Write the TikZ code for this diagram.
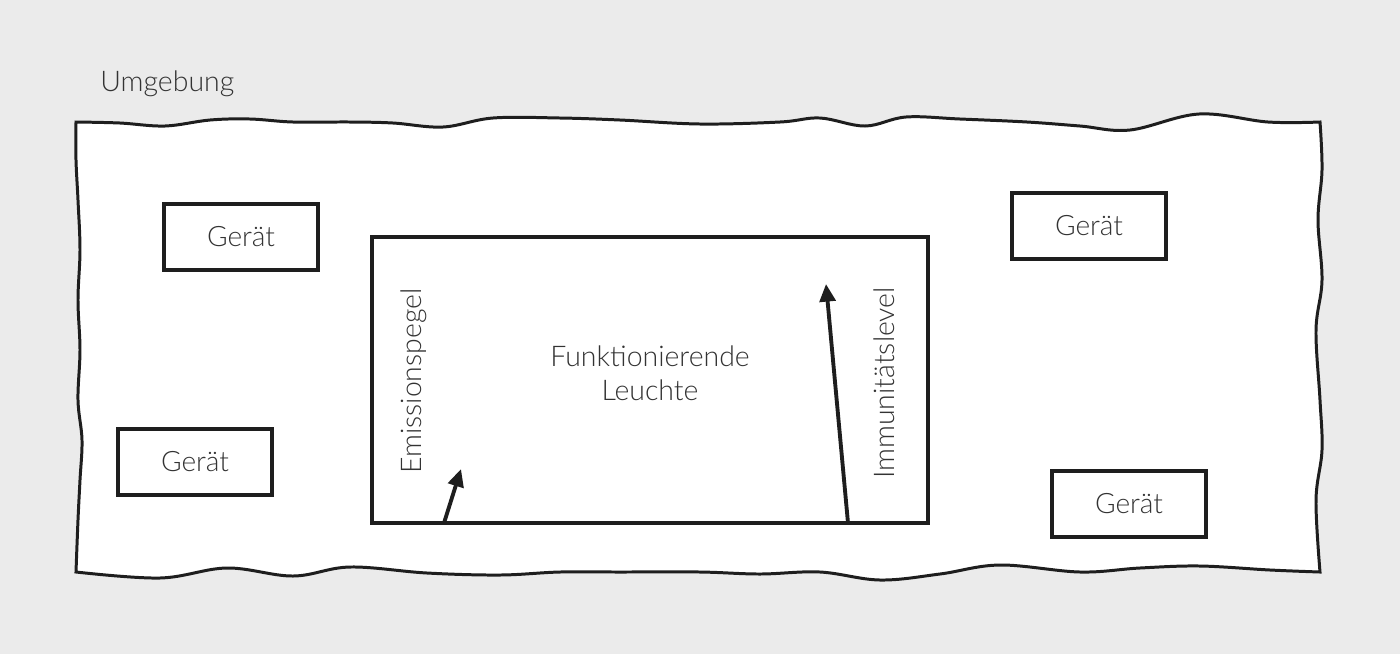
\documentclass[tikz,border=0pt]{standalone}
\usepackage{fontspec}
\setmainfont{Lato}[UprightFont={* Light}]
\usetikzlibrary{arrows.meta}
\definecolor{bg}{HTML}{EBEBEB}
\definecolor{txt}{HTML}{333333}
\definecolor{ln}{HTML}{1E1E1E}
\tikzset{
  device/.style={draw=ln, line width=1.8pt, fill=white, minimum width=3.08cm, minimum height=1.32cm, inner sep=0pt, text=txt, font=\fontsize{16}{19.5}\selectfont},
  lamp/.style={draw=ln, line width=1.8pt, fill=white, minimum width=11.12cm, minimum height=5.72cm, inner sep=0pt},
  lbl/.style={text=txt, font=\fontsize{16.2}{19.5}\selectfont, inner sep=0pt},
  level/.style={draw=ln, line width=2.2pt, -{Triangle[length=10pt,width=9pt]}}
}
\begin{document}
\begin{tikzpicture}[x=0.02cm,y=-0.02cm]
\fill[bg] (0,0) rectangle (1400,654);
\useasboundingbox (0,0) rectangle (1400,654);
% environment
\filldraw[fill=white, draw=ln, line width=1.7pt, line join=miter]
  plot[smooth,tension=0.6] coordinates {(76,122) (120,123) (165,126) (210,120) (250,119) (293,122) (350,122) (393,123) (443,127) (493,118) (560,118) (620,120) (700,124) (780,122) (820,118) (865,126) (906,117) (960,119) (1027,122) (1080,126) (1130,130) (1199,114) (1268,122) (1320,122)}
  -- plot[smooth,tension=0.6] coordinates {(1320,122) (1322,170) (1318,220) (1322,280) (1316,330) (1320,400) (1322,450) (1316,500) (1320,572)}
  -- plot[smooth,tension=0.6] coordinates {(1320,572) (1270,570) (1200,566) (1140,568) (1080,572) (1000,565) (940,574) (880,580) (820,572) (760,574) (700,572) (620,572) (560,572) (500,575) (427,573) (350,567) (293,576) (227,568) (160,578) (76,572)}
  -- plot[smooth,tension=0.6] coordinates {(76,572) (78,520) (80,480) (82,440) (78,400) (80,350) (78,300) (80,250) (78,200) (76,160) (76,122)}
  -- cycle;
\node[lbl, anchor=west] (env) at (100,84) {Umgebung};
% devices
\node[device] (g1) at (241,237) {Gerät};
\node[device] (g2) at (195,462) {Gerät};
\node[device] (g3) at (1089,226) {Gerät};
\node[device] (g4) at (1129,504) {Gerät};
% lamp
\node[lamp] (lamp) at (650,380) {};
\node[lbl, align=center] (title) at (650,373) {Funktionierende\\Leuchte};
\node[lbl, rotate=90] (emi) at (414,381) {Emissionspegel};
\node[lbl, rotate=90] (imm) at (884,383) {Immunitätslevel};
\coordinate (e0) at (444,523);
\coordinate (e1) at (461,469);
\coordinate (i0) at (848,523);
\coordinate (i1) at (826,284);
\draw[level] (e0) -- (e1);
\draw[level] (i0) -- (i1);
\end{tikzpicture}
\end{document}
